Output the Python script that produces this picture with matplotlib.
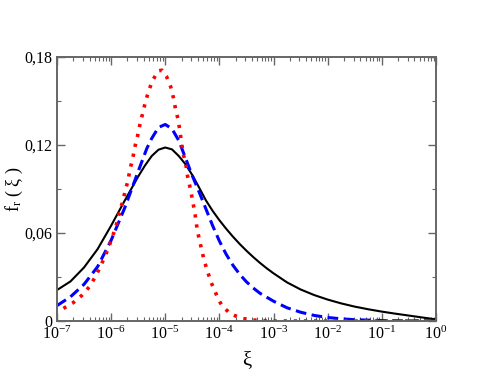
import numpy as np
import matplotlib
matplotlib.use("Agg")
import matplotlib.pyplot as plt
from matplotlib.ticker import LogLocator, FixedLocator, NullFormatter, LogFormatterMathtext

plt.rcParams['font.family'] = ['Liberation Serif', 'DejaVu Serif']
plt.rcParams['mathtext.fontset'] = 'custom'
plt.rcParams['mathtext.rm'] = 'Liberation Serif'
plt.rcParams['mathtext.it'] = 'Liberation Serif:italic'

# curves: log10(xi) and f_r(xi)
black_logx = [-7.0, -6.75, -6.5, -6.25, -6.0, -5.75, -5.5, -5.375, -5.25, -5.125,
              -5.0, -4.875, -4.75, -4.625, -4.5, -4.375, -4.25, -4.125, -4.0, -3.875,
              -3.75, -3.625, -3.5, -3.375, -3.25, -3.125, -3.0, -2.75, -2.5, -2.25,
              -2.0, -1.75, -1.5, -1.25, -1.0, -0.75, -0.5, -0.25, 0.0]
black_f = [0.0211, 0.0270, 0.0365, 0.0490, 0.0650, 0.0820, 0.0985, 0.1060, 0.1125, 0.1168,
           0.1183, 0.1170, 0.1125, 0.1068, 0.0995, 0.0910, 0.0823, 0.0751, 0.0687, 0.0629,
           0.0575, 0.0525, 0.0479, 0.0436, 0.0396, 0.0359, 0.0325, 0.0263, 0.0215, 0.0177,
           0.0146, 0.0120, 0.0098, 0.0080, 0.0064, 0.0050, 0.0037, 0.0024, 0.0011]

blue_logx = [-7.0, -6.75, -6.5, -6.25, -6.0, -5.75, -5.5, -5.34, -5.25, -5.125,
             -5.0, -4.875, -4.75, -4.6, -4.5, -4.375, -4.25, -4.125, -4.0, -3.875,
             -3.75, -3.625, -3.5, -3.375, -3.25, -3.0, -2.75, -2.5, -2.25, -2.0,
             -1.75, -1.5, -1.0, -0.5, 0.0]
blue_f = [0.0105, 0.0165, 0.0250, 0.0370, 0.0550, 0.0770, 0.1020, 0.1177, 0.1245, 0.1320,
          0.1340, 0.1310, 0.1230, 0.1086, 0.0990, 0.0880, 0.0765, 0.0650, 0.0545, 0.0455,
          0.0380, 0.0318, 0.0267, 0.0225, 0.0189, 0.0135, 0.0090, 0.0060, 0.0038, 0.0024,
          0.0015, 0.0009, 0.0003, 0.0001, 0.0]

red_logx = [-6.88, -6.7, -6.54, -6.4, -6.29, -6.2, -6.11, -6.03, -5.96, -5.9,
            -5.85, -5.79, -5.74, -5.69, -5.65, -5.6, -5.56, -5.51, -5.47, -5.42,
            -5.37, -5.31, -5.24, -5.13, -5.06, -4.98, -4.9, -4.85, -4.81, -4.76,
            -4.73, -4.7, -4.67, -4.62, -4.59, -4.53, -4.49, -4.45, -4.42, -4.38,
            -4.33, -4.28, -4.22, -4.16, -4.08, -4.0, -3.94, -3.79, -3.59, -3.39,
            -3.18, -3.0, -2.0, -1.0, 0.0]
red_f = [0.0086, 0.0125, 0.0175, 0.0234, 0.0302, 0.0370, 0.0443, 0.0518, 0.0591, 0.0660,
         0.0734, 0.0810, 0.0886, 0.0955, 0.1036, 0.1110, 0.1188, 0.1263, 0.1336, 0.1411,
         0.1489, 0.1564, 0.1636, 0.1705, 0.1710, 0.1670, 0.1598, 0.1523, 0.1445, 0.1370,
         0.1295, 0.1218, 0.1143, 0.1068, 0.0991, 0.0890, 0.0810, 0.0730, 0.0650, 0.0570,
         0.0490, 0.0410, 0.0340, 0.0270, 0.0200, 0.0135, 0.0098, 0.0048, 0.0018, 0.0007,
         0.0002, 0.0, 0.0, 0.0, 0.0]

y_ticks = [0, 0.06, 0.12, 0.18]
y_ticklabels = ['0', '0,06', '0,12', '0,18']

fig = plt.figure(figsize=(4.91, 3.79), dpi=100)
ax = fig.add_axes([0.116, 0.153, 0.772, 0.6966])

ax.plot(10.0 ** np.array(black_logx), black_f, color='black', lw=1.5)
ax.plot(10.0 ** np.array(blue_logx), blue_f, color='#0000ff', lw=2.2, dashes=(3.5, 1.8))
ax.plot(10.0 ** np.array(red_logx), red_f, color='#ff0000', lw=2.6, linestyle=(0, (0.9, 1.9)))

ax.set_xscale('log')
ax.set_xlim(1e-7, 1e0)
ax.set_ylim(0, 0.18)

ax.xaxis.set_major_locator(LogLocator(base=10, numticks=20))
ax.xaxis.set_minor_locator(LogLocator(base=10, subs=np.arange(2, 10), numticks=20))
ax.xaxis.set_major_formatter(LogFormatterMathtext())
ax.xaxis.set_minor_formatter(NullFormatter())
ax.set_yticks(y_ticks)
ax.set_yticklabels(y_ticklabels)
ax.yaxis.set_minor_locator(FixedLocator([0.03, 0.09, 0.15]))

edge = '#666666'
for s in ax.spines.values():
    s.set_color(edge)
    s.set_linewidth(1.4)
ax.tick_params(which='both', direction='in', top=True, right=True, colors=edge,
               labelcolor='black', labelsize=11.5)
ax.tick_params(which='major', length=6, width=1.0)
ax.tick_params(which='minor', length=3, width=0.8)

ax.set_xlabel('ξ', fontsize=15)
ax.set_ylabel(r'f$_{\rm r}$ ( ξ )', fontsize=13)
ax.xaxis.set_label_coords(0.5, -0.115)
ax.yaxis.set_label_coords(-0.085, 0.5)

fig.savefig('out.png', dpi=100)
